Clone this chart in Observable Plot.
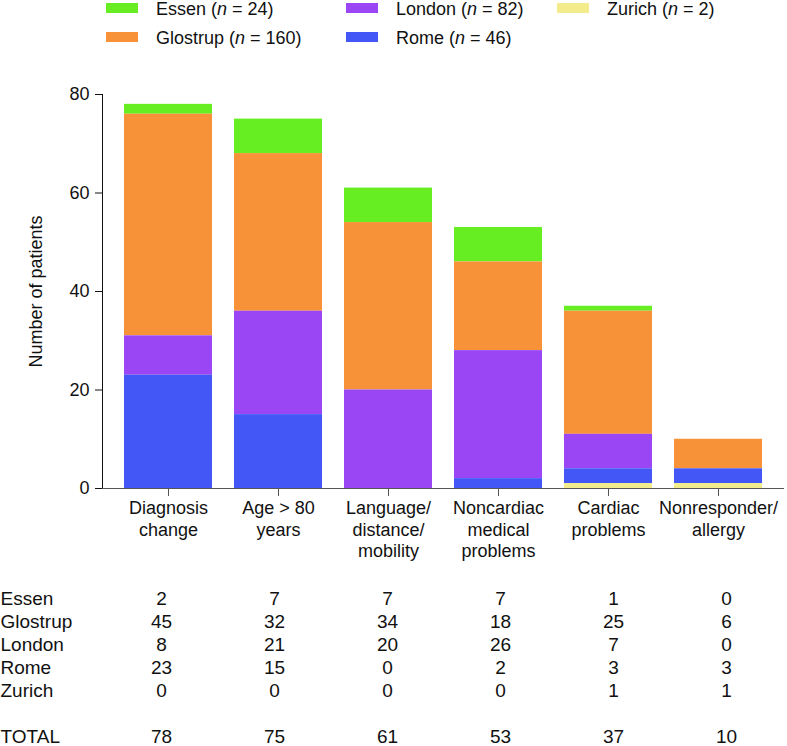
<!DOCTYPE html>
<html><head><meta charset="utf-8">
<script src="https://cdn.jsdelivr.net/npm/d3@7"></script>
<script src="https://cdn.jsdelivr.net/npm/@observablehq/plot@0.6"></script>
<style>
body{margin:0;background:#fff;font-family:"Liberation Sans",Arial,Helvetica,sans-serif;}
#wrap{position:relative;width:787px;height:746px;overflow:hidden;}
.leg{position:absolute;font-size:18px;color:#111;line-height:18px;white-space:nowrap;}
.sw{position:absolute;width:32px;height:10px;}
</style></head><body><div id="wrap"></div>
<script>
// ---- data ----
const categories = ["Diagnosis\nchange","Age > 80\nyears","Language/\ndistance/\nmobility","Noncardiac\nmedical\nproblems","Cardiac\nproblems","Nonresponder/\nallergy"];
const centres = ["Essen","Glostrup","London","Rome","Zurich"];
const centreN = [24,160,82,46,2];
const essen    = [2,7,7,7,1,0];
const glostrup = [45,32,34,18,25,6];
const london   = [8,21,20,26,7,0];
const rome     = [23,15,0,2,3,3];
const zurich   = [0,0,0,0,1,1];
const totals   = [78,75,61,53,37,10];
const yTicks   = [0,20,40,60,80];
const colors   = ["#66ee22","#f79238","#9a46f5","#4257f5","#f3ec8c"];
const stackOrder = ["Zurich","Rome","London","Glostrup","Essen"];

const series = [essen, glostrup, london, rome, zurich];
const long = [];
centres.forEach((c, i) => categories.forEach((cat, j) => long.push({centre: c, cat, value: series[i][j]})));

const wrap = document.getElementById("wrap");
const FONT = '"Liberation Sans", Arial, Helvetica, sans-serif';

// ---- legend ----
const legPos = [[106,8],[106,37],[346,8],[346,37],[557,8]];
centres.forEach((c, i) => {
  const [x, y] = legPos[i];
  const sw = document.createElement("div");
  sw.className = "sw";
  sw.style.left = x + "px"; sw.style.top = (y - 5) + "px";
  sw.style.background = colors[i];
  wrap.appendChild(sw);
  const t = document.createElement("div");
  t.className = "leg";
  t.style.left = (x + 50) + "px"; t.style.top = (y - 8) + "px";
  t.innerHTML = `${c} (<i>n</i> = ${centreN[i]})`;
  wrap.appendChild(t);
});

const xOpts = {domain: categories, paddingInner: 0.197, paddingOuter: 0.176};

// ---- main chart ----
const chart = Plot.plot({
  width: 787, height: 510,
  marginLeft: 102, marginRight: 3, marginTop: 34, marginBottom: 82,
  style: {fontFamily: FONT, fontSize: "18px", color: "#111"},
  x: {...xOpts, label: null},
  y: {domain: [0, 80], ticks: yTicks, tickSize: 7, tickPadding: 6, line: true,
      label: "Number of patients", labelAnchor: "center", labelArrow: "none", labelOffset: 73},
  color: {domain: centres, range: colors},
  marks: [
    Plot.barY(long, {x: "cat", y: "value", fill: "centre", order: stackOrder, inset: 0}),
    Plot.ruleY([0], {stroke: "#555"}),
    Plot.axisX({tickSize: 8, tickPadding: 3, lineHeight: 1.17, fontSize: 18, label: null, stroke: "#555"})
  ]
});
chart.style.position = "absolute"; chart.style.top = "60px"; chart.style.left = "0px";
wrap.appendChild(chart);

// ---- table ----
const rowKeys = [...centres, "", "TOTAL"];
const cells = [];
centres.forEach((c, i) => categories.forEach((cat, j) => cells.push({row: c, cat, value: series[i][j]})));
categories.forEach((cat, j) => cells.push({row: "TOTAL", cat, value: totals[j]}));
const rowLabels = [...centres, "TOTAL"];

const table = Plot.plot({
  width: 787, height: 176,
  marginLeft: 102, marginRight: 3, marginTop: 28, marginBottom: 10,
  style: {fontFamily: FONT, fontSize: "19px", color: "#111"},
  x: {...xOpts, axis: null},
  y: {type: "point", domain: rowKeys, padding: 0, axis: null},
  marks: [
    Plot.text(cells, {x: "cat", y: "row", text: "value", fontSize: 19}),
    Plot.text(rowLabels, {y: d => d, frameAnchor: "left", dx: -102, textAnchor: "start", fontSize: 19})
  ]
});
table.style.position = "absolute"; table.style.top = "570px"; table.style.left = "0px";
wrap.appendChild(table);
</script>
</body></html>
